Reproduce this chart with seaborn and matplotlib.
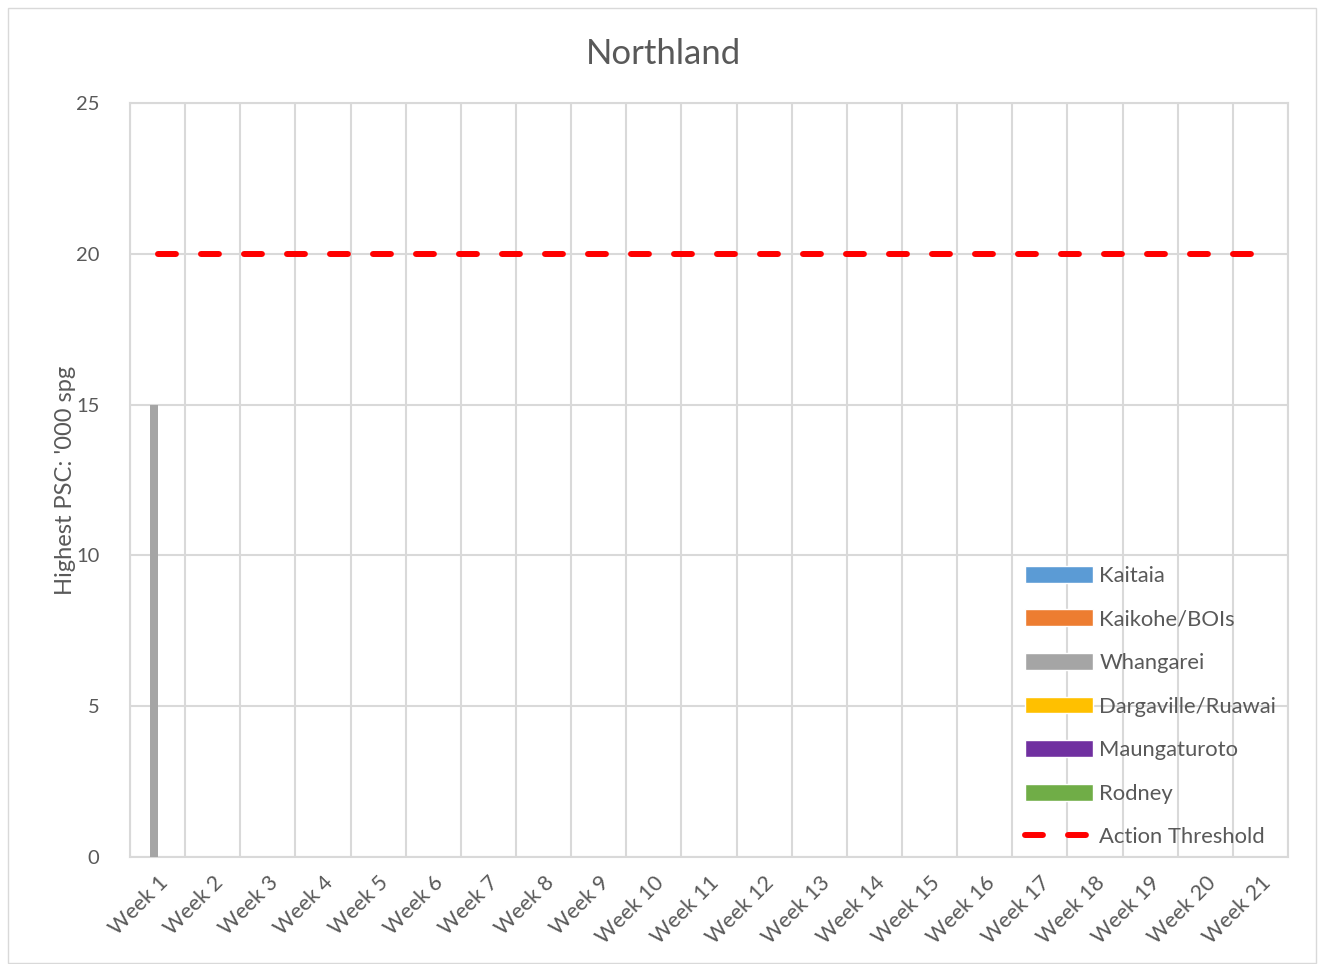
import numpy as np
import pandas as pd
import matplotlib
matplotlib.use('Agg')
import matplotlib.pyplot as plt
from matplotlib.patches import Patch, Rectangle
from matplotlib.lines import Line2D
from matplotlib.ticker import MultipleLocator, FixedLocator
import seaborn as sns

# Данные
weeks = ['Week 1', 'Week 2', 'Week 3', 'Week 4', 'Week 5', 'Week 6', 'Week 7',
         'Week 8', 'Week 9', 'Week 10', 'Week 11', 'Week 12', 'Week 13',
         'Week 14', 'Week 15', 'Week 16', 'Week 17', 'Week 18', 'Week 19',
         'Week 20', 'Week 21']
sites = ['Kaitaia', 'Kaikohe/BOIs', 'Whangarei', 'Dargaville/Ruawai',
         'Maungaturoto', 'Rodney']
kaitaia      = [0, 0, 0, 0, 0, 0, 0, 0, 0, 0, 0, 0, 0, 0, 0, 0, 0, 0, 0, 0, 0]
kaikohe      = [0, 0, 0, 0, 0, 0, 0, 0, 0, 0, 0, 0, 0, 0, 0, 0, 0, 0, 0, 0, 0]
whangarei    = [15, 0, 0, 0, 0, 0, 0, 0, 0, 0, 0, 0, 0, 0, 0, 0, 0, 0, 0, 0, 0]
dargaville   = [0, 0, 0, 0, 0, 0, 0, 0, 0, 0, 0, 0, 0, 0, 0, 0, 0, 0, 0, 0, 0]
maungaturoto = [0, 0, 0, 0, 0, 0, 0, 0, 0, 0, 0, 0, 0, 0, 0, 0, 0, 0, 0, 0, 0]
rodney       = [0, 0, 0, 0, 0, 0, 0, 0, 0, 0, 0, 0, 0, 0, 0, 0, 0, 0, 0, 0, 0]
threshold    = [20, 20, 20, 20, 20, 20, 20, 20, 20, 20, 20, 20, 20, 20, 20,
                20, 20, 20, 20, 20, 20]

PALETTE = {'Kaitaia': '#5B9BD5', 'Kaikohe/BOIs': '#ED7D31',
           'Whangarei': '#A5A5A5', 'Dargaville/Ruawai': '#FFC000',
           'Maungaturoto': '#7030A0', 'Rodney': '#70AD47'}
TXT = '#595959'
GRID = '#D9D9D9'

series = [kaitaia, kaikohe, whangarei, dargaville, maungaturoto, rodney]
df = pd.concat([pd.DataFrame({'week': weeks, 'site': s, 'psc': v})
                for s, v in zip(sites, series)], ignore_index=True)

sns.set_style('white')
plt.rcParams['font.family'] = ['Lato', 'DejaVu Sans']

fig = plt.figure(figsize=(13.19, 9.64), dpi=100)
ax = fig.add_axes([0.0986, 0.111, 0.8779, 0.782])

sns.barplot(data=df, x='week', y='psc', hue='site', order=weeks,
            hue_order=sites, palette=PALETTE, width=0.87, linewidth=0,
            saturation=1, legend=False, ax=ax, zorder=3)

ax.plot(np.arange(len(weeks)), threshold, color='#FF0000', lw=4.3,
        dashes=(3, 4.2), dash_capstyle='round', zorder=4)

ax.set_xlim(-0.5, len(weeks) - 0.5)
ax.set_ylim(0, 25)
ax.yaxis.set_major_locator(MultipleLocator(5))
ax.xaxis.set_minor_locator(FixedLocator(np.arange(-0.5, len(weeks), 1)))
ax.grid(axis='y', which='major', color=GRID, lw=1.5)
ax.grid(axis='x', which='minor', color=GRID, lw=1.5)
ax.set_axisbelow(True)
for sp in ax.spines.values():
    sp.set_color(GRID); sp.set_linewidth(1.5)
ax.tick_params(which='both', length=0)
ax.tick_params(axis='y', labelsize=14.5, labelcolor=TXT, pad=22)
ax.tick_params(axis='x', labelsize=15.5, labelcolor=TXT, pad=11)
plt.setp(ax.get_xticklabels(), rotation=45, ha='right',
         rotation_mode='anchor')
ax.set_xlabel('')
ax.set_ylabel("Highest PSC: '000 spg", fontsize=17, color=TXT, labelpad=0)
fig.text(0.503, 0.944, 'Northland', fontsize=25, color=TXT,
         ha='center', va='center')

handles = [Patch(facecolor=PALETTE[s], label=s) for s in sites]
handles.append(Line2D([0], [0], color='#FF0000', lw=4.3, dashes=(3, 4.2),
                      dash_capstyle='round', label='Action Threshold'))
leg = ax.legend(handles=handles, loc='upper left',
                bbox_to_anchor=(0.765, 0.398), frameon=False, fontsize=15.8,
                handlelength=3.1, handleheight=0.8, labelspacing=1.075,
                handletextpad=0.3, borderaxespad=0)
for t in leg.get_texts():
    t.set_color(TXT)

fig.patches.append(Rectangle((8 / 1319, 1 / 964), 1308 / 1319, 955 / 964,
                             transform=fig.transFigure, fill=False,
                             edgecolor=GRID, lw=1))

plt.savefig('out.png', dpi=100)
plt.close()
